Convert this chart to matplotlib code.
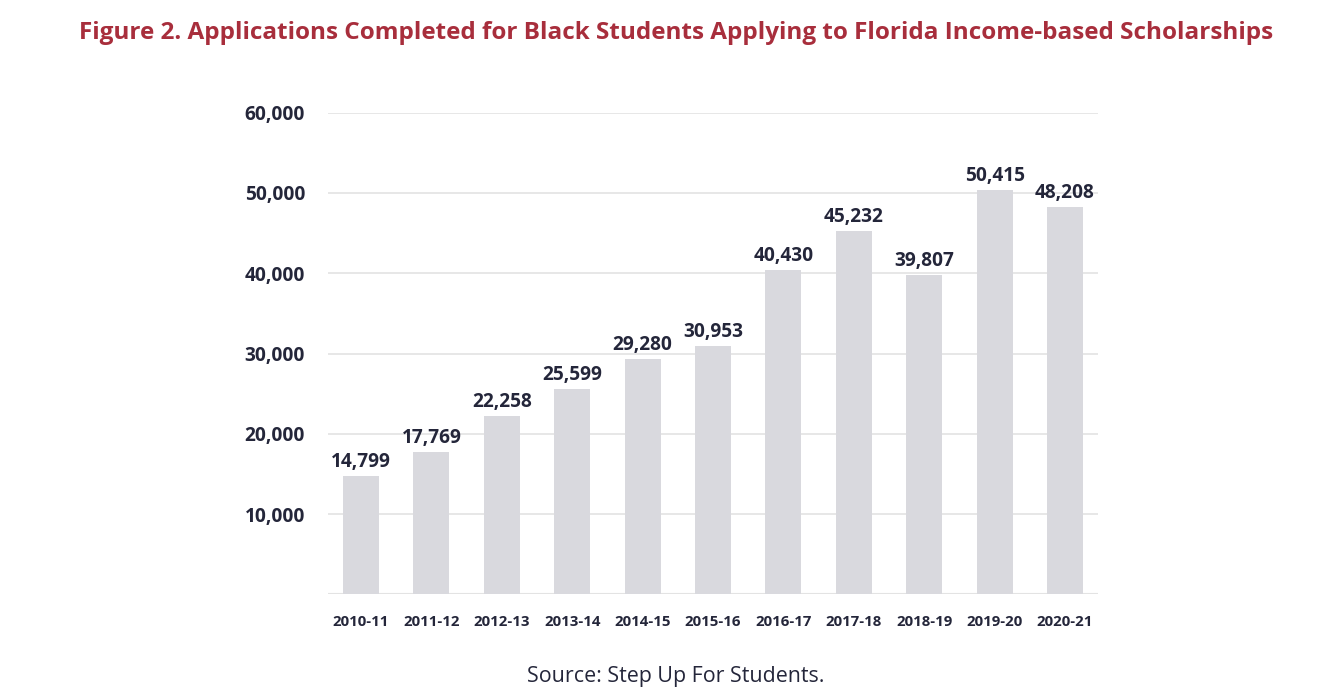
import matplotlib
matplotlib.use("Agg")
import matplotlib.pyplot as plt
from matplotlib.ticker import FuncFormatter

# data
years = ["2010-11", "2011-12", "2012-13", "2013-14", "2014-15", "2015-16",
         "2016-17", "2017-18", "2018-19", "2019-20", "2020-21"]
applications = [14799, 17769, 22258, 25599, 29280, 30953,
                40430, 45232, 39807, 50415, 48208]
y_ticks = [10000, 20000, 30000, 40000, 50000, 60000]

title = "Figure 2. Applications Completed for Black Students Applying to Florida Income-based Scholarships"
source = "Source: Step Up For Students."

plt.rcParams['font.family'] = ['Open Sans', 'DejaVu Sans']
text_col = "#24263a"
bar_col = "#d9d9de"
grid_col = "#e3e3e3"

fig = plt.figure(figsize=(13.44, 7.0), dpi=100)
ax = fig.add_axes([0.244, 0.151, 0.573, 0.688])

x = range(len(years))
bars = ax.bar(x, applications, width=0.51, color=bar_col, zorder=2)

for rect, v in zip(bars, applications):
    ax.text(rect.get_x() + rect.get_width() / 2, v + 500, f"{v:,}",
            ha="center", va="bottom", fontsize=13.8, fontweight="bold",
            color=text_col)

ax.set_ylim(0, 60000)
ax.set_xlim(-0.47, len(years) - 0.53)
ax.set_yticks(y_ticks)
ax.yaxis.set_major_formatter(FuncFormatter(lambda v, p: f"{int(v):,}"))
ax.set_xticks(list(x))
ax.set_xticklabels(years)

ax.grid(axis="y", color=grid_col, linewidth=1.2, zorder=0)
ax.axhline(0, color=grid_col, linewidth=1.5, zorder=1)
for s in ax.spines.values():
    s.set_visible(False)
ax.tick_params(axis="both", length=0, colors=text_col)
ax.tick_params(axis="y", pad=16.5, labelsize=13.8)
ax.tick_params(axis="x", pad=15, labelsize=10.8)
for lbl in ax.get_yticklabels() + ax.get_xticklabels():
    lbl.set_fontweight("bold")

fig.text(0.503, 0.953, title, ha="center", va="center", fontsize=17.5,
         fontweight="bold", color="#a82e3c")
fig.text(0.503, 0.034, source, ha="center", va="center", fontsize=15.4,
         color=text_col)

fig.savefig("out.png", dpi=100)
